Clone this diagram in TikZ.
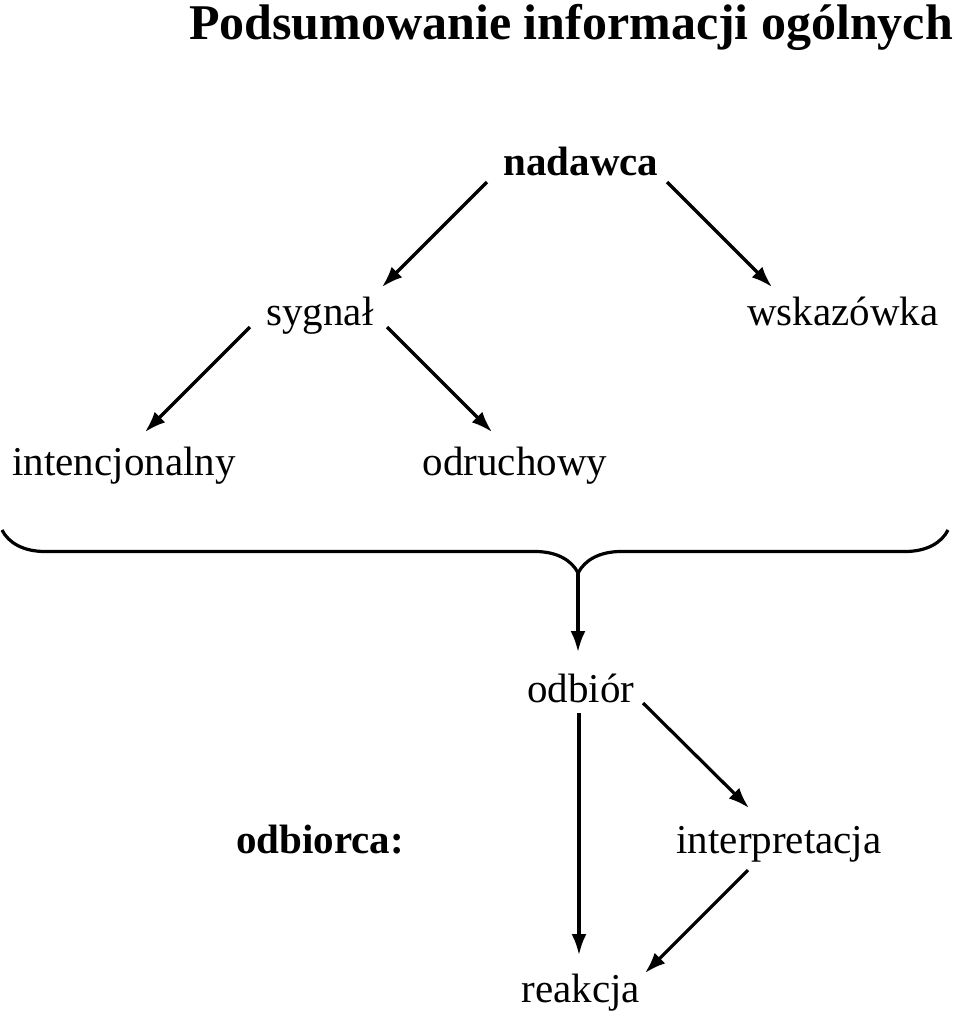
\documentclass[tikz,border=0pt]{standalone}
\usepackage{fontspec}
\setmainfont{Liberation Serif}
\usetikzlibrary{arrows.meta,calc,decorations.pathreplacing}

\tikzset{
  lbl/.style={inner sep=0pt,anchor=base,font=\fontsize{41}{41}\selectfont},
  lblb/.style={lbl,font=\fontsize{41}{41}\selectfont\bfseries},
  arr/.style={line width=3.2pt,-{Latex[length=21pt,width=15pt]}}
}

\begin{document}
\begin{tikzpicture}[x=1pt,y=-1pt]
  \useasboundingbox (0,0) rectangle (960,1013);
  \node[inner sep=0pt,anchor=base,font=\fontsize{50}{50}\selectfont\bfseries] (title) at (571,39) {Podsumowanie informacji ogólnych};
  % nadawca
  \node[lblb] (nadawca) at (581,175) {nadawca};
  \node[lbl] (sygnal) at (320,325) {sygnał};
  \node[lbl] (wskazowka) at (843,325) {wskazówka};
  \node[lbl] (intencj) at (124,475) {intencjonalny};
  \node[lbl] (odruch) at (515,475) {odruchowy};
  % odbiorca
  \node[lbl] (odbior) at (581,702) {odbiór};
  \node[lblb] (odbiorca) at (320,853) {odbiorca:};
  \node[lbl] (interp) at (779,853) {interpretacja};
  \node[lbl] (reakcja) at (581,1002) {reakcja};

  \draw[arr] ([xshift=-94pt,yshift=-7pt]nadawca.base) -- ([xshift=62pt,yshift=38pt]sygnal.base);
  \draw[arr] ([xshift=86pt,yshift=-7pt]nadawca.base) -- ([xshift=-71pt,yshift=38pt]wskazowka.base);
  \draw[arr] ([xshift=-70pt,yshift=-2pt]sygnal.base) -- ([xshift=21pt,yshift=43pt]intencj.base);
  \draw[arr] ([xshift=67pt,yshift=-2pt]sygnal.base) -- ([xshift=-23pt,yshift=43pt]odruch.base);

  % klamra
  \coordinate (bl) at (2,530);
  \coordinate (br) at (948,530);
  \coordinate (tip) at (578,573);
  \draw[line width=3.2pt,decorate,decoration={brace,mirror,amplitude=43pt,aspect=0.609}] (bl) -- (br);
  \draw[arr] (tip) -- ([xshift=-3pt,yshift=50pt]odbior.base);

  \draw[arr] ([xshift=-2pt,yshift=-11pt]odbior.base) -- ([xshift=-2pt,yshift=47pt]reakcja.base);
  \draw[arr] ([xshift=62pt,yshift=-1pt]odbior.base) -- ([xshift=-30pt,yshift=45pt]interp.base);
  \draw[arr] ([xshift=-31pt,yshift=-17pt]interp.base) -- ([xshift=64pt,yshift=29pt]reakcja.base);
\end{tikzpicture}
\end{document}
